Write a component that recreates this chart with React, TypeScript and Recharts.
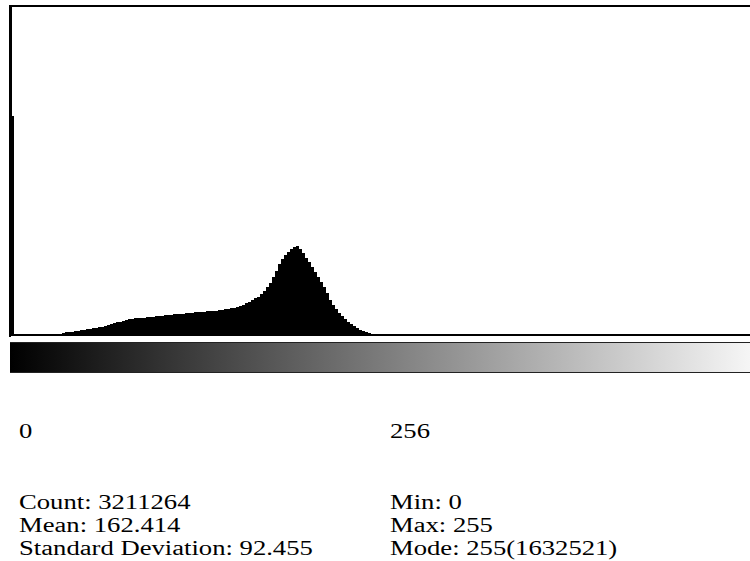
import React from 'react';
import { BarChart, Bar, XAxis, YAxis, ReferenceLine } from 'recharts';

// pixel counts per grey level 0..255
const counts = [
  83100, 0, 0, 0, 0, 0, 0, 0, 0, 0, 0, 0, 0, 0, 0, 0,
  0, 800, 1100, 1100, 1100, 1500, 1500, 1900, 1900, 2300, 2300, 2700, 2700, 3000, 3000, 3400,
  3800, 4200, 4600, 5000, 5000, 5300, 5700, 6100, 6100, 6500, 6500, 6500, 6500, 6900, 6900, 6900,
  7200, 7200, 7200, 7600, 7600, 7600, 8000, 8000, 8000, 8000, 8400, 8400, 8400, 8800, 8800, 8800,
  8800, 9100, 9100, 9100, 9100, 9500, 9500, 9900, 9900, 10300, 10300, 10700, 11000, 11400, 12200, 12600,
  13300, 14100, 14500, 15600, 16800, 18300, 19800, 22100, 24400, 27100, 29000, 30500, 31600, 32800, 33500, 33900,
  32800, 31200, 29300, 27800, 25900, 24000, 22100, 20200, 18300, 16000, 13300, 11400, 9900, 8400, 7200, 6100,
  5000, 4200, 3400, 2700, 1900, 1500, 1100, 800, 400, 400, 0, 0, 0, 0, 0, 0,
  0, 0, 0, 0, 0, 0, 0, 0, 0, 0, 0, 0, 0, 0, 0, 0,
  0, 0, 0, 0, 0, 0, 0, 0, 0, 0, 0, 0, 0, 0, 0, 0,
  0, 0, 0, 0, 0, 0, 0, 0, 0, 0, 0, 0, 0, 0, 0, 0,
  0, 0, 0, 0, 0, 0, 0, 0, 0, 0, 0, 0, 0, 0, 0, 0,
  0, 0, 0, 0, 0, 0, 0, 0, 0, 0, 0, 0, 0, 0, 0, 0,
  0, 0, 0, 0, 0, 0, 0, 0, 0, 0, 0, 0, 0, 0, 0, 0,
  0, 0, 0, 0, 0, 0, 0, 0, 0, 0, 0, 0, 0, 0, 0, 0,
  0, 0, 0, 0, 0, 0, 0, 0, 0, 0, 0, 0, 0, 0, 0, 1632521,
];

const rangeLabels = ['0', '256'];
const statsLeft = ['Count: 3211264', 'Mean: 162.414', 'Standard Deviation: 92.455'];
const statsRight = ['Min: 0', 'Max: 255', 'Mode: 255(1632521)'];
const yMax = 125000;

const data = counts.map((c, i) => ({ bin: i, count: c }));

const font = "'Liberation Serif', 'Times New Roman', serif";

// the reference text is wider than plain Times at this height
const textStyle = (left: number, top: number): React.CSSProperties => ({
  position: 'absolute',
  left,
  top,
  fontFamily: font,
  fontSize: 20.5,
  lineHeight: '20.5px',
  color: '#000',
  whiteSpace: 'nowrap',
  transform: 'scaleX(1.3)',
  transformOrigin: 'left top',
});

const App: React.FC = () => {
  // text tops for the three stat rows
  const rowTops = [492, 515, 538];
  return (
    <div style={{ position: 'absolute', left: 0, top: 0, width: 750, height: 561, overflow: 'hidden', background: '#fff' }}>
      <div style={{ position: 'absolute', left: 0, top: 0 }}>
        <BarChart
          width={790}
          height={337}
          data={data}
          margin={{ top: 6, right: 11, bottom: 1, left: 10 }}
          barCategoryGap={0}
          barGap={0}
        >
          <XAxis dataKey="bin" tick={false} tickLine={false} height={1} axisLine={{ stroke: '#000', strokeWidth: 2 }} />
          <YAxis domain={[0, yMax]} allowDataOverflow tick={false} tickLine={false} width={1} axisLine={{ stroke: '#000', strokeWidth: 2 }} />
          <ReferenceLine y={yMax} stroke="#000" strokeWidth={2} />
          <Bar dataKey="count" fill="#000" isAnimationActive={false} shapeRendering="crispEdges" />
        </BarChart>
      </div>
      {/* left edge of the frame */}
      <div style={{ position: 'absolute', left: 9, top: 5, width: 2, height: 332, background: '#000' }} />
      <div
        style={{
          position: 'absolute',
          left: 10,
          top: 342,
          width: 768,
          height: 29,
          background: 'linear-gradient(to right, #000, #fff)',
          borderTop: '1px solid #222',
          borderBottom: '1px solid #222',
        }}
      />
      <div style={textStyle(19, 421)}>{rangeLabels[0]}</div>
      <div style={textStyle(390, 421)}>{rangeLabels[1]}</div>
      {statsLeft.map((s, i) => (
        <div key={s} style={textStyle(19, rowTops[i])}>{s}</div>
      ))}
      {statsRight.map((s, i) => (
        <div key={s} style={textStyle(390, rowTops[i])}>{s}</div>
      ))}
    </div>
  );
};

export default App;
